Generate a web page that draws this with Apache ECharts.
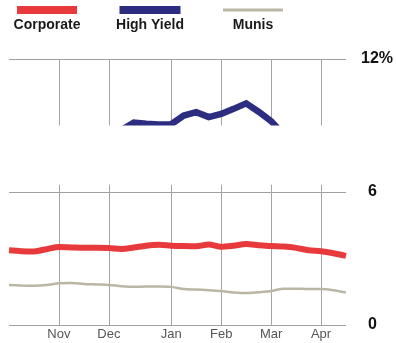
<!DOCTYPE html>
<html>
<head>
<meta charset="utf-8">
<script src="https://cdn.jsdelivr.net/npm/echarts@6/dist/echarts.min.js"></script>
<style>
  html, body { margin: 0; padding: 0; background: #fff; }
  #chart { width: 396px; height: 343px; }
</style>
</head>
<body>
<div id="chart"></div>
<script>
// Weekly observations, Oct to Apr
const weeks = ['Oct 3','Oct 10','Oct 17','Oct 24','Oct 31','Nov 7','Nov 14','Nov 21','Nov 28',
  'Dec 5','Dec 12','Dec 19','Dec 26','Jan 2','Jan 9','Jan 16','Jan 23','Jan 30','Feb 6',
  'Feb 13','Feb 20','Feb 27','Mar 6','Mar 13','Mar 20','Mar 27','Apr 3','Apr 10'];

// Month labels shown on the week that opens each month
const monthTicks = { 'Oct 31': 'Nov', 'Nov 28': 'Dec', 'Jan 2': 'Jan', 'Jan 30': 'Feb', 'Feb 27': 'Mar', 'Mar 27': 'Apr' };

// Yields, percent
const corporate = [3.37, 3.33, 3.32, 3.42, 3.52, 3.50, 3.48, 3.48, 3.47, 3.43, 3.50, 3.58, 3.62, 3.58,
  3.56, 3.55, 3.63, 3.53, 3.58, 3.65, 3.60, 3.56, 3.54, 3.48, 3.37, 3.33, 3.24, 3.12];
const highYield = [8.5, 8.4, 8.5, 8.6, 8.6, 8.6, 8.7, 8.6, 8.6, 8.8, 9.13, 9.08, 9.05, 9.06,
  9.45, 9.6, 9.38, 9.52, 9.75, 10.0, 9.62, 9.2, 8.6, 8.5, 8.5, 8.4, 8.4, 8.3];
const munis = [1.80, 1.78, 1.77, 1.80, 1.88, 1.90, 1.85, 1.83, 1.81, 1.75, 1.72, 1.74, 1.74, 1.72,
  1.62, 1.60, 1.57, 1.53, 1.47, 1.44, 1.48, 1.53, 1.64, 1.64, 1.62, 1.62, 1.57, 1.46];

const seriesNames = ['Corporate', 'High Yield', 'Munis'];
const seriesColors = ['#e83a3c', '#2c2d80', '#b9b6a5'];

// The scale between these two values is left blank
const gapTop = 9.0;
const gapBottom = 6.33;

const chart = echarts.init(document.getElementById('chart'), null, { renderer: 'canvas' });

const isMonth = (idx, val) => monthTicks[val] !== undefined;

chart.setOption({
  animation: false,
  backgroundColor: '#fff',
  grid: { left: 9, right: 50, top: 59, bottom: 18 },
  xAxis: {
    type: 'category',
    data: weeks,
    boundaryGap: false,
    axisLine: { show: false },
    axisTick: { show: false },
    axisLabel: {
      interval: isMonth,
      formatter: v => monthTicks[v] || '',
      color: '#555',
      fontFamily: 'Liberation Sans, Arial, sans-serif',
      fontSize: 13,
      margin: 3,
      verticalAlign: 'top'
    },
    splitLine: { show: true, interval: isMonth, lineStyle: { color: '#a5a5a5', width: 1 } }
  },
  yAxis: {
    type: 'value',
    position: 'right',
    min: 0, max: 12, interval: 6,
    axisLine: { show: false },
    axisTick: { show: false },
    splitLine: { lineStyle: { color: '#a0a0a0', width: 1 } },
    axisLabel: {
      margin: 15,
      align: 'left',
      formatter: v => v === 12 ? '{top|12%}' : '{n|' + v + '}',
      rich: {
        top: { fontFamily: 'Liberation Sans, Arial, sans-serif', fontWeight: 'bold', fontSize: 16, color: '#111' },
        n: { fontFamily: 'Liberation Sans, Arial, sans-serif', fontWeight: 'bold', fontSize: 16, color: '#111', padding: [0, 0, 0, 7] }
      }
    }
  },
  series: [
    { name: seriesNames[0], type: 'line', data: corporate, symbol: 'none', smooth: 0.3,
      lineStyle: { color: seriesColors[0], width: 6 }, z: 3 },
    { name: seriesNames[1], type: 'line', data: highYield, symbol: 'none',
      lineStyle: { color: seriesColors[1], width: 6.5, join: 'miter' }, z: 3 },
    { name: seriesNames[2], type: 'line', data: munis, symbol: 'none', smooth: 0.3,
      lineStyle: { color: seriesColors[2], width: 2.5 }, z: 3 }
  ]
});

// Blank band across the plot, plus the key above it
const yTop = chart.convertToPixel({ yAxisIndex: 0 }, gapTop);
const yBottom = chart.convertToPixel({ yAxisIndex: 0 }, gapBottom);
const xLeft = chart.convertToPixel({ xAxisIndex: 0 }, 0);
const xRight = chart.convertToPixel({ xAxisIndex: 0 }, weeks.length - 1);

const keyCenters = [47, 150, 253];
const keyWidths = [60, 61, 60];
const keyHeights = [8, 8, 3];
const graphics = [{
  type: 'rect', z: 100, silent: true,
  shape: { x: xLeft - 6, y: yTop, width: xRight - xLeft + 12, height: yBottom - yTop },
  style: { fill: '#fff' }
}];
seriesNames.forEach((name, i) => {
  graphics.push({
    type: 'rect', z: 100,
    shape: { x: keyCenters[i] - keyWidths[i] / 2, y: 10 - keyHeights[i] / 2, width: keyWidths[i], height: keyHeights[i] },
    style: { fill: seriesColors[i] }
  });
  graphics.push({
    type: 'text', z: 100, x: keyCenters[i], y: 25,
    style: { text: name, fill: '#1a1a1a', font: 'bold 14px "Liberation Sans", Arial, sans-serif',
      align: 'center', verticalAlign: 'middle' }
  });
});
chart.setOption({ graphic: graphics });
</script>
</body>
</html>
